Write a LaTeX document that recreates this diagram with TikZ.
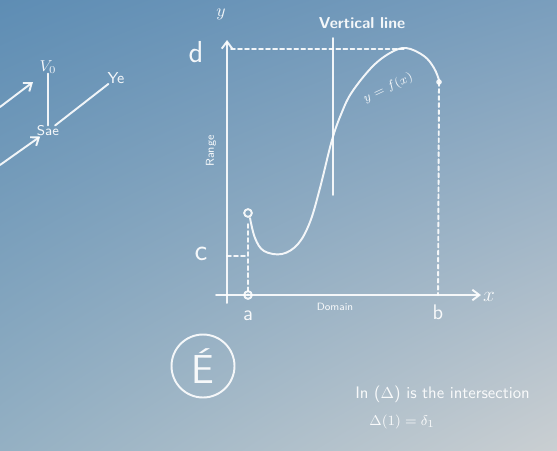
\documentclass[tikz,border=0pt]{standalone}
\usetikzlibrary{arrows.meta,shadings}
\definecolor{boardtl}{RGB}{94,141,180}
\definecolor{boardtr}{RGB}{122,158,189}
\definecolor{boardbl}{RGB}{148,176,195}
\definecolor{boardbr}{RGB}{202,207,210}
\tikzset{
	chalk/.style={draw=white, draw opacity=0.9, line width=1.1pt, line cap=round, line join=round},
	chalkdash/.style={chalk, dash pattern=on 2.2pt off 1.8pt},
	chalkarrow/.style={chalk, -{Straight Barb[length=4pt,width=6pt]}},
	chalktext/.style={text=white, text opacity=0.92, font=\sffamily, inner sep=0pt},
}
\begin{document}
\begin{tikzpicture}[x=0.02cm, y=-0.02cm]
	\shade[upper left=boardtl, upper right=boardtr, lower left=boardbl, lower right=boardbr] (0,0) rectangle (557,450);
	\useasboundingbox (0,0) rectangle (557,450);

	\coordinate (ybot) at (227,303);
	\coordinate (ytop) at (227,40);
	\coordinate (xleft) at (216,295);
	\coordinate (xright) at (481,295);
	\coordinate (dlev) at (231,49);
	\coordinate (peak) at (405,49);
	\coordinate (clev) at (227,256);
	\coordinate (cfoot) at (248,256);
	\coordinate (fstart) at (248,213);
	\coordinate (astem) at (248,224);
	\coordinate (afoot) at (248,295);
	\coordinate (fend) at (439,82);
	\coordinate (bfoot) at (438,295);
	\coordinate (vtop) at (333,38);
	\coordinate (vbot) at (333,195);

	\draw[chalkarrow] (ybot) -- (ytop);
	\draw[chalkarrow] (xleft) -- (xright);
	\draw[chalk] (vtop) -- (vbot);
	\draw[chalkdash] (dlev) -- (peak);
	\draw[chalkdash] (clev) -- (cfoot);
	\draw[chalkdash] (astem) -- (afoot);
	\draw[chalkdash] (fend) -- (bfoot);
	\draw[chalk] plot[smooth, tension=0.6] coordinates {(250,218) (255,238) (264,251) (282,254) (298,244) (310,222) (320,188) (332,140) (342,112) (352,92) (372,67) (390,53) (406,48) (424,56) (434,68) (439,80)};
	\draw[chalk] (fstart) circle (2.2pt);
	\draw[chalk] (afoot) circle (2.2pt);
	\fill[white, opacity=0.9] (fend) circle (1.6pt);

	\node[chalktext, font=\normalsize] (ylab) at (221,14) {$y$};
	\node[chalktext, font=\sffamily\large] (xlab) at (489,297) {$x$};
	\node[chalktext, font=\sffamily\LARGE] (dlab) at (196,52) {d};
	\node[chalktext, font=\sffamily\LARGE] (clab) at (201,254) {c};
	\node[chalktext, font=\sffamily\large] (alab) at (248,316) {a};
	\node[chalktext, font=\sffamily\large] (blab) at (438,312) {b};
	\node[chalktext, font=\sffamily\small\bfseries] (vlab) at (362,23) {Vertical line};
	\node[chalktext, font=\scriptsize, rotate=25] (flab) at (388,88) {$y=f(x)$};
	\node[chalktext, font=\sffamily\fontsize{6}{7}\selectfont] (domlab) at (335,307) {Domain};
	\node[chalktext, font=\sffamily\fontsize{6.5}{7}\selectfont, rotate=90] (rnglab) at (211,151) {Range};
	\node[chalktext, chalk, circle, minimum size=12.6mm, font=\sffamily\fontsize{23}{25}\selectfont] (elab) at (203,366) {É};

	\coordinate (ls) at (0,107);
	\coordinate (le) at (33,82);
	\coordinate (ms) at (0,165);
	\draw[chalkarrow] (ls) -- (le);
	\node[chalktext, font=\sffamily\small] (vzero) at (48,67) {$V_0$};
	\node[chalktext, font=\sffamily\footnotesize] (sae) at (48,131) {Sae};
	\node[chalktext, font=\sffamily\small] (ye) at (116,78) {Ye};
	\draw[chalk] (vzero) -- (sae);
	\draw[chalkarrow] (ms) -- (sae);
	\draw[chalk] (sae) -- (ye);

	\node[chalktext, anchor=west, font=\sffamily\fontsize{9.5}{11}\selectfont] (intxt) at (355,394) {In ($\Delta$) is the intersection};
	\node[chalktext, anchor=west, font=\sffamily\fontsize{8.5}{10}\selectfont] (deltxt) at (369,422) {$\Delta(1)=\delta_1$};
\end{tikzpicture}
\end{document}
